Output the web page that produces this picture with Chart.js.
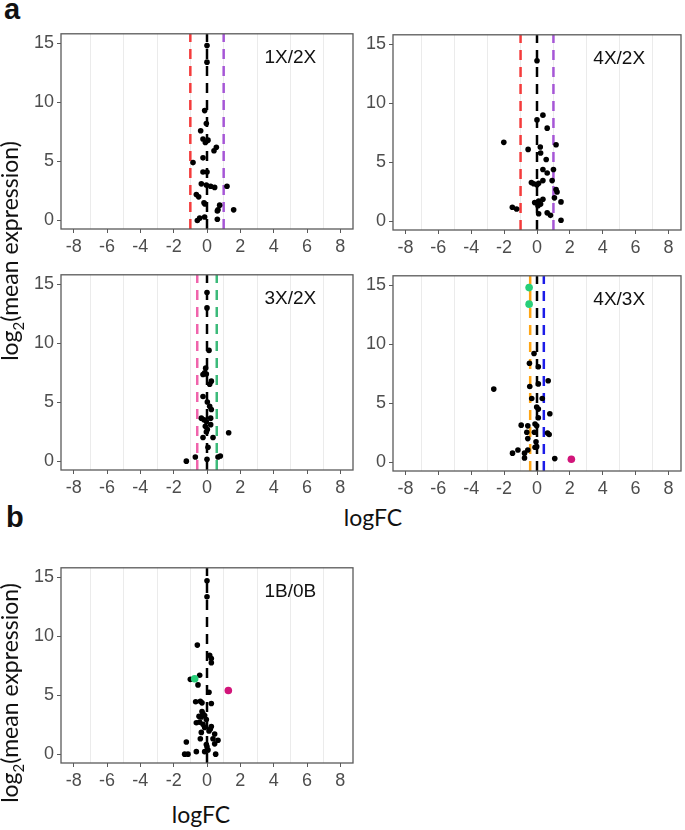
<!DOCTYPE html>
<html>
<head>
<meta charset="utf-8">
<script src="https://cdn.jsdelivr.net/npm/chart.js@4.4.1/dist/chart.umd.min.js"></script>
<style>
body { margin: 0; background: #fff; }
#wrap { position: relative; width: 685px; height: 830px; overflow: hidden; font-family: Lato, "Open Sans", sans-serif; color: #111; }
canvas { position: absolute; }
.tag { position: absolute; font: bold 29px "Liberation Sans", Arial, sans-serif; line-height: 1; }
.xlab { position: absolute; font-size: 23px; line-height: 1; transform: translateX(-50%); white-space: nowrap; }
.ylab { position: absolute; font-size: 23px; line-height: 1; white-space: nowrap; transform: translate(-50%, -50%) rotate(-90deg); }
.ylab sub { font-size: 15px; }
</style>
</head>
<body>
<div id="wrap">
  <canvas id="c1"></canvas>
  <canvas id="c2"></canvas>
  <canvas id="c3"></canvas>
  <canvas id="c4"></canvas>
  <canvas id="c5"></canvas>

  <div class="tag" style="left:4px; top:-5px">a</div>
  <div class="tag" style="left:6px; top:503px">b</div>
  <div class="xlab" style="left:373px; top:506px">logFC</div>
  <div class="xlab" style="left:201px; top:803px">logFC</div>
  <div class="ylab" style="left:12px; top:251px">log<sub>2</sub>(mean expression)</div>
  <div class="ylab" style="left:12px; top:693px">log<sub>2</sub>(mean expression)</div>
</div>

<script>
// axis ticks
const xTicks = [-8, -6, -4, -2, 0, 2, 4, 6, 8]
const yTicks = [0, 5, 10, 15]
const panelNames = ['1X/2X', '4X/2X', '3X/2X', '4X/3X', '1B/0B']

// panel 1: 1X/2X
const p1X = [0, 0, -0.14, -0.04, -0.38, -0.24, 0.06, -0.1, 0.42, 0.56, -0.84, -0.24, -0.24, 0, -0.34, -0.04, 0.22, 0.46, 1.2, -0.64, -0.5, -0.18, -0.12, 0.76, 0.66, 0.62, 1.6, -0.58, -0.44, -0.14, 0.62]
const p1Y = [14.8, 13.4, 9.3, 8.2, 7.6, 6.9, 6.8, 6.6, 5.9, 6.2, 4.9, 5.3, 4.1, 4.1, 3.1, 3.0, 2.9, 2.8, 2.9, 2.2, 2.0, 1.5, 1.4, 1.3, 0.9, 0.8, 0.9, 0.0, 0.2, 0.3, 0.1]
const p1Cuts = [-1, 0, 1]

// panel 2: 4X/2X
const p2X = [0, 0.36, 0, 0.62, -2.02, 1.16, -0.54, 0.2, 0.22, 0.56, 0.36, 0.62, 1.0, -0.34, -0.2, 0, 0.1, 0.36, 0.92, 1.16, 1.22, 1.06, 1.46, -0.14, 0.1, 0.22, 0.06, 0.36, -1.5, -1.24, 0.1, 0.62, 0.82, 1.46]
const p2Y = [13.6, 9.0, 8.6, 7.9, 6.7, 6.5, 6.1, 6.3, 5.8, 5.25, 4.4, 4.1, 4.4, 3.3, 3.2, 3.1, 3.24, 3.46, 3.46, 2.7, 2.5, 2.0, 1.66, 1.6, 1.74, 1.47, 1.33, 1.88, 1.2, 1.06, 0.65, 0.73, 0.52, 0.1]
const p2Cuts = [-1, 0, 1]

// panel 3: 3X/2X
const p3X = [0, 0, 0.12, -0.08, -0.14, -0.24, -0.04, 0.16, 0.26, -0.24, 0.02, 0.16, 0.26, -0.34, -0.18, -0.04, 0.22, 0.22, -0.1, 0.02, -0.04, 1.3, -0.24, 0.36, 0.06, -1.24, -0.7, 0, 0.66, 0.8]
const p3Y = [14.3, 13.0, 9.4, 7.9, 7.5, 7.36, 7.4, 6.54, 6.8, 5.5, 5.03, 4.68, 4.4, 3.67, 3.53, 3.39, 3.67, 3.12, 2.98, 2.71, 2.49, 2.43, 2.03, 2.03, 1.2, 0.03, 0.38, 0.19, 0.38, 0.46]
const p3Cuts = [-0.585, 0, 0.585]

// panel 4: 4X/3X
const p4X = [-0.18, 0.08, -0.46, 0.68, -2.63, -0.44, 0.08, -0.32, 0.32, -0.02, 0.08, 0.78, 0.08, -0.96, -0.56, -0.12, -0.02, -0.62, -0.16, 0.64, 0.74, -0.56, -0.06, -0.02, -0.12, -0.56, -1.16, -1.49, -0.76, -0.76, 1.08]
const p4Y = [9.23, 8.1, 8.4, 6.92, 6.21, 6.43, 6.65, 5.42, 5.42, 4.69, 4.52, 4.12, 3.79, 3.16, 3.1, 3.25, 3.1, 2.56, 2.56, 2.5, 2.37, 2.02, 1.75, 1.34, 1.29, 1.06, 1.06, 0.79, 0.79, 0.38, 0.33]
const p4UpX = [2.09]
const p4UpY = [0.27]
const p4DownX = [-0.48, -0.48]
const p4DownY = [14.8, 13.4]
const p4Cuts = [-0.415, 0, 0.415]

// panel 5: 1B/0B
const p5X = [0, 0, -0.58, 0.16, 0.26, 0.26, -0.44, -1.0, -0.54, 0.12, -0.68, -0.4, -0.3, 0.26, -0.3, -0.24, -0.48, -0.34, -0.14, -0.04, -0.64, -0.44, -0.24, -0.14, 0.26, 0.2, -0.34, 0.12, 0.46, 0.36, -0.4, 0.66, -1.24, -0.04, 0, 0.46, -0.64, -0.14, 0.06, -1.34, -1.14, 0.52]
const p5Y = [14.7, 13.34, 9.26, 8.39, 8.12, 7.77, 6.71, 6.36, 5.89, 5.27, 4.46, 4.51, 4.37, 4.32, 3.64, 3.45, 3.23, 3.18, 3.29, 2.96, 2.69, 2.74, 2.55, 2.28, 2.36, 2.15, 1.87, 1.99, 1.74, 1.33, 1.33, 1.2, 1.06, 0.84, 0.65, 0.9, 0.24, 0.24, 0.37, 0.03, 0.03, 0.03]
const p5UpX = [1.28]
const p5UpY = [5.41]
const p5DownX = [-0.74]
const p5DownY = [6.41]
const p5Cuts = [0]

const X_MIN = -8.76, X_MAX = 8.76, Y_MIN = -0.72, Y_MAX = 15.8
const GREY = '#4d4d4d'
const BORDER = '#5a5a5a'

function pts(xs, ys) {
  return xs.map((x, i) => ({ x, y: ys[i] }))
}

const panelDeco = {
  id: 'panelDeco',
  afterDatasetsDraw(chart, args, opts) {
    const { ctx, chartArea: a, scales } = chart
    ctx.save()
    ctx.strokeStyle = BORDER
    ctx.lineWidth = 1.3
    ctx.strokeRect(a.left, a.top, a.right - a.left, a.bottom - a.top)
    ctx.fillStyle = '#111'
    ctx.font = '19px "Liberation Sans", Arial, sans-serif'
    ctx.textAlign = 'center'
    ctx.textBaseline = 'middle'
    ctx.fillText(opts.text, scales.x.getPixelForValue(5), scales.y.getPixelForValue(13.8))
    ctx.restore()
  }
}

function cutLine(x, color) {
  return {
    data: [{ x, y: Y_MIN }, { x, y: Y_MAX }],
    showLine: true,
    borderColor: color,
    borderWidth: 2.5,
    borderDash: [10, 7],
    pointRadius: 0,
    order: 2,
  }
}

function makePanel(id, box, name, points, cuts, cutColors, extra) {
  const cv = document.getElementById(id)
  const padR = box.padR
  const w = box.r - box.l + 40 + padR
  const h = box.b - box.t + 8 + 30
  cv.width = w
  cv.height = h
  cv.style.left = (box.l - 40) + 'px'
  cv.style.top = (box.t - 8) + 'px'
  cv.style.width = w + 'px'
  cv.style.height = h + 'px'

  const datasets = cuts.map((c, i) => cutLine(c, cutColors[i]))
  datasets.push({
    data: points,
    backgroundColor: '#000',
    borderWidth: 0,
    pointRadius: 2.8,
    order: 1,
  })
  for (let e of extra) {
    datasets.push({
      data: e.data,
      backgroundColor: e.color,
      borderWidth: 0,
      pointRadius: 3.8,
      order: 0,
    })
  }

  const tickFont = { size: 18, family: '"Liberation Sans", Arial, sans-serif' }
  new Chart(cv, {
    type: 'scatter',
    data: { datasets },
    plugins: [panelDeco],
    options: {
      responsive: false,
      animation: false,
      events: [],
      layout: { padding: { top: 8, right: padR, left: 0, bottom: 0 } },
      plugins: { legend: { display: false }, tooltip: { enabled: false }, panelDeco: { text: name } },
      scales: {
        x: {
          type: 'linear', min: X_MIN, max: X_MAX,
          afterBuildTicks: s => {
            let t = []
            for (let v = -8; v <= 8; v++) t.push({ value: v })
            s.ticks = t
          },
          afterFit: s => { s.height = 30 },
          border: { display: false },
          grid: {
            color: c => (c.tick && Math.abs(c.tick.value % 2) === 1) ? '#ebebeb' : 'rgba(0,0,0,0)',
            tickColor: c => (c.tick && c.tick.value % 2 === 0) ? BORDER : 'rgba(0,0,0,0)',
            tickLength: 4,
            lineWidth: 1,
          },
          ticks: {
            color: GREY, font: tickFont, padding: 3, maxRotation: 0, autoSkip: false,
            callback: v => xTicks.includes(v) ? String(v) : '',
          },
        },
        y: {
          type: 'linear', min: Y_MIN, max: Y_MAX,
          afterBuildTicks: s => { s.ticks = yTicks.map(v => ({ value: v })) },
          afterFit: s => { s.width = 40 },
          border: { display: false },
          grid: { drawOnChartArea: false, tickLength: 4, tickColor: BORDER },
          ticks: { color: GREY, font: tickFont, padding: 3 },
        },
      },
    },
  })
}

const redCol = '#f43b3b', purpleCol = '#a656d6', blackCol = '#000'
const pinkCol = '#f064ac', greenCol = '#3cba7a'
const orangeCol = '#ffa514', blueCol = '#1c1ce8'
const upCol = '#d2157a', downCol = '#27cf79'

makePanel('c1', { l: 61, r: 353, t: 28, b: 229, padR: 8 }, panelNames[0], pts(p1X, p1Y), p1Cuts, [redCol, blackCol, purpleCol], [])
makePanel('c2', { l: 393, r: 684, t: 29, b: 230, padR: 1 }, panelNames[1], pts(p2X, p2Y), p2Cuts, [redCol, blackCol, purpleCol], [])
makePanel('c3', { l: 61, r: 353, t: 269, b: 470, padR: 8 }, panelNames[2], pts(p3X, p3Y), p3Cuts, [pinkCol, blackCol, greenCol], [])
makePanel('c4', { l: 393, r: 684, t: 270, b: 471, padR: 1 }, panelNames[3], pts(p4X, p4Y), p4Cuts, [orangeCol, blackCol, blueCol],
  [{ data: pts(p4UpX, p4UpY), color: upCol }, { data: pts(p4DownX, p4DownY), color: downCol }])
makePanel('c5', { l: 61, r: 353, t: 562, b: 763, padR: 8 }, panelNames[4], pts(p5X, p5Y), p5Cuts, [blackCol],
  [{ data: pts(p5UpX, p5UpY), color: upCol }, { data: pts(p5DownX, p5DownY), color: downCol }])
</script>
</body>
</html>
